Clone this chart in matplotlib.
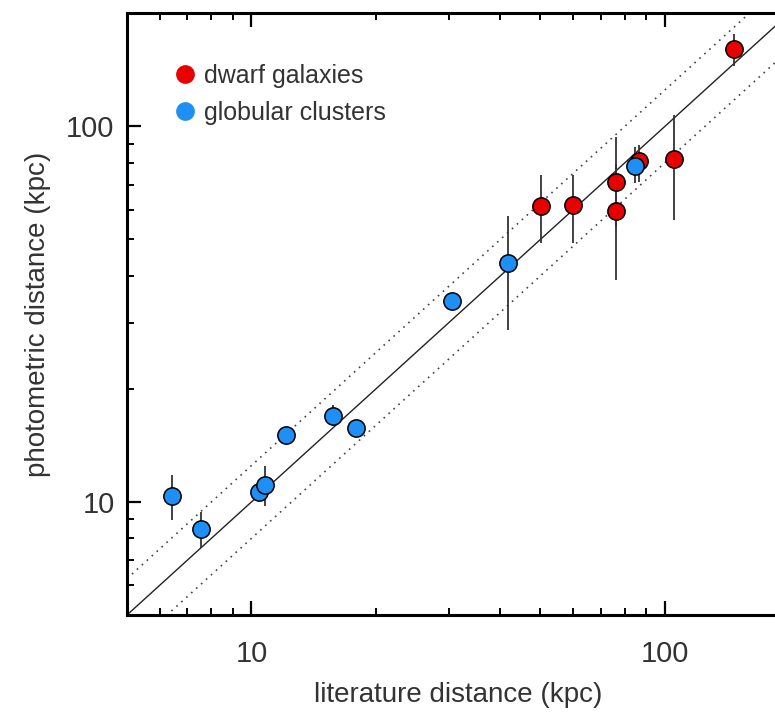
import matplotlib
matplotlib.use("Agg")
import matplotlib.pyplot as plt
from matplotlib.lines import Line2D
import numpy as np

plt.rcParams['font.family'] = ['Liberation Sans', 'DejaVu Sans']

# globular clusters: literature distance, photometric distance, error bar (low, high)
gc_lit = [6.44, 7.54, 10.43, 10.77, 12.15, 15.78, 17.9, 30.6, 41.7, 84.5]
gc_phot = [10.4, 8.47, 10.63, 11.07, 15.1, 16.95, 15.7, 34.3, 43.2, 78.3]
gc_lo = [8.97, 7.55, 10.63, 9.73, 15.1, 15.9, 15.7, 34.3, 28.7, 70.6]
gc_hi = [11.8, 9.41, 10.63, 12.43, 15.1, 18.1, 15.7, 34.3, 57.8, 88.0]

# dwarf galaxies
dg_lit = [50.2, 60.1, 76.1, 76.1, 86.7, 105.1, 146.8]
dg_phot = [61.4, 61.6, 71.1, 59.7, 80.7, 81.7, 160.9]
dg_lo = [48.8, 48.9, 54.0, 39.0, 71.0, 56.3, 145.0]
dg_hi = [74.1, 74.1, 93.7, 79.6, 89.0, 107.0, 176.0]

band = 1.25
xr = [5, 200]

red = "#e80000"
blue = "#1e8ff5"
txt = "#333333"

fig = plt.figure(figsize=(7.75, 7.16), dpi=100)
ax = fig.add_axes([0.1639, 0.1411, 0.8546, 0.8403])
ax.set_xscale("log")
ax.set_yscale("log")
ax.set_xlim(xr)
ax.set_ylim(xr)

xx = np.array(xr)
ax.plot(xx, xx, color="#222222", lw=1.0, zorder=1)
ax.plot(xx, xx * band, color="#444444", lw=1.2, ls=(0, (1, 3)), zorder=1)
ax.plot(xx, xx / band, color="#444444", lw=1.2, ls=(0, (1, 3)), zorder=1)

def draw(xs, ys, lo, hi, c):
    y = np.array(ys)
    yerr = [y - np.array(lo), np.array(hi) - y]
    ax.errorbar(xs, ys, yerr=yerr, fmt="none", ecolor="#333333", elinewidth=1.3, zorder=2)
    ax.scatter(xs, ys, s=155, c=c, edgecolors="black", linewidths=1.1, zorder=3)

draw(dg_lit, dg_phot, dg_lo, dg_hi, red)
draw(gc_lit, gc_phot, gc_lo, gc_hi, blue)

handles = [Line2D([], [], ls="none", marker="o", ms=13.5, mfc=red, mec="none"),
           Line2D([], [], ls="none", marker="o", ms=13.5, mfc=blue, mec="none")]
ax.legend(handles, ["dwarf galaxies", "globular clusters"], loc="upper left",
          bbox_to_anchor=(0.05, 0.932), frameon=False, fontsize=18,
          handletextpad=0.15, labelspacing=0.5, labelcolor=txt, borderaxespad=0,
          handlelength=1.2)

for s in ax.spines.values():
    s.set_linewidth(2.2)
ax.tick_params(which="both", direction="in", top=True, right=True, colors="black",
               labelcolor=txt, labelsize=21)
ax.tick_params(which="major", length=10, width=1.6)
ax.tick_params(which="minor", length=5, width=1.4)
ax.tick_params(axis="x", pad=18)
ax.tick_params(axis="y", pad=9)
ax.set_xticks([10, 100], ["10", "100"])
ax.set_yticks([10, 100], ["10", "100"])

ax.set_xlabel("literature distance (kpc)", fontsize=20, color=txt, labelpad=10)
ax.set_ylabel("photometric distance (kpc)", fontsize=20, color=txt, labelpad=11)

fig.savefig("out.png", dpi=100)
